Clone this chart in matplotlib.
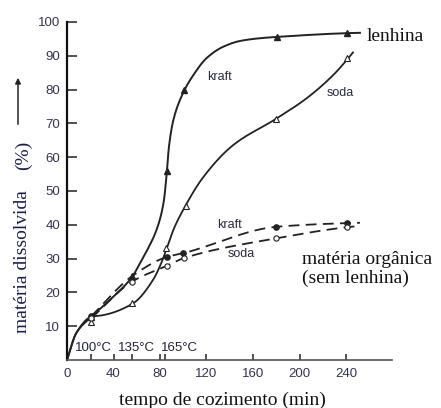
import numpy as np
import matplotlib
matplotlib.use("Agg")
import matplotlib.pyplot as plt

# marker points (min, %)
kl_x = [21, 56, 86, 101, 181, 241]           # kraft, lenhina
kl_y = [12.7, 24.8, 56.0, 79.8, 95.5, 96.7]
sl_x = [21, 56, 85, 102, 180, 241]           # soda, lenhina
sl_y = [11.3, 16.9, 33.2, 45.5, 71.4, 89.4]
ko_x = [21, 86, 100, 180, 241]               # kraft, materia organica
ko_y = [13.0, 30.5, 31.6, 39.4, 40.5]
so_x = [21, 56, 86, 101, 180, 241]           # soda, materia organica
so_y = [12.4, 23.2, 27.9, 30.2, 36.0, 39.3]

# traced curves
kl_cx = [0, 8, 21, 37, 56, 64, 70, 77, 83, 86, 87.5, 91.5, 101, 108.7, 120, 134.5, 149, 166, 181, 241, 252]
kl_cy = [0, 8, 12.8, 17.8, 24.6, 29.4, 33.2, 38.5, 46.4, 56, 62.5, 71, 79.8, 84.3, 89.3, 92.7, 94.4, 95.2, 95.6, 96.7, 96.8]
sl_cx = [0, 8, 21, 30, 57, 74, 81, 86, 91.5, 101.5, 117, 143, 180, 206, 229, 242, 246]
sl_cy = [0, 8, 12.8, 13.2, 16.8, 23.7, 28.6, 33.2, 38.5, 45.4, 54.0, 63.6, 71.4, 77.4, 84.3, 89.3, 91.0]
ko_cx = [21, 56, 86, 100, 180, 241, 252]
ko_cy = [13.0, 24.8, 30.5, 31.6, 39.4, 40.5, 40.6]
so_cx = [21, 56, 86, 101, 180, 241, 250]
so_cy = [12.4, 23.2, 27.9, 30.2, 36.0, 39.3, 39.6]

xticks = [0, 40, 80, 120, 160, 200, 240]
yticks = [10, 20, 30, 40, 50, 60, 70, 80, 90, 100]
temp_x = [21, 56, 84]
temp_labels = ['100°C', '135°C', '165°C']
temp_text_x = [7, 44, 81]


def pchip(x, y, n=400):
    x = np.asarray(x, float)
    y = np.asarray(y, float)
    h = np.diff(x)
    d = np.diff(y) / h
    m = np.zeros_like(y)
    m[0], m[-1] = d[0], d[-1]
    for k in range(1, len(x) - 1):
        if d[k - 1] * d[k] > 0:
            w1 = 2 * h[k] + h[k - 1]
            w2 = h[k] + 2 * h[k - 1]
            m[k] = (w1 + w2) / (w1 / d[k - 1] + w2 / d[k])
    xs = np.linspace(x[0], x[-1], n)
    i = np.clip(np.searchsorted(x, xs) - 1, 0, len(x) - 2)
    t = (xs - x[i]) / h[i]
    h00 = 2 * t**3 - 3 * t**2 + 1
    h10 = t**3 - 2 * t**2 + t
    h01 = -2 * t**3 + 3 * t**2
    h11 = t**3 - t**2
    ys = h00 * y[i] + h10 * h[i] * m[i] + h01 * y[i + 1] + h11 * h[i] * m[i + 1]
    return xs, ys


fig = plt.figure(figsize=(4.41, 4.08), dpi=100)
ax = fig.add_axes([67 / 441, 48 / 408, 325.5 / 441, 338 / 408])

lc = '#222222'
ax.plot(*pchip(kl_cx, kl_cy), color=lc, lw=1.4)
ax.plot(*pchip(sl_cx, sl_cy), color=lc, lw=1.3)
ax.plot(*pchip(ko_cx, ko_cy), color=lc, lw=1.3, dashes=(6, 3.5))
ax.plot(*pchip(so_cx, so_cy), color=lc, lw=1.3, dashes=(6, 3.5))

ax.plot(kl_x, kl_y, '^', color=lc, ms=4.5, ls='none')
ax.plot(sl_x, sl_y, '^', mfc='white', mec=lc, mew=0.8, ms=4.5, ls='none')
ax.plot(ko_x, ko_y, 'o', color=lc, ms=3.8, ls='none')
ax.plot(so_x, so_y, 'o', mfc='white', mec=lc, mew=0.8, ms=3.8, ls='none')

ax.set_xlim(0, 280)
ax.set_ylim(0, 100)
ax.spines['top'].set_visible(False)
ax.spines['right'].set_visible(False)
ax.spines['left'].set_linewidth(1.6)
ax.spines['bottom'].set_linewidth(1.2)
ax.spines['left'].set_color('#111111')
ax.spines['bottom'].set_color('#555555')

tick_col = '#33334d'
ax.set_xticks(xticks)
ax.set_xticks(temp_x, minor=True)
ax.set_yticks(yticks)
ax.tick_params(axis='x', which='both', direction='in', length=4, width=1.2,
               pad=6, labelsize=9.5, labelcolor=tick_col, color='#333333')
ax.tick_params(axis='y', direction='in', length=7, width=1.2, pad=5,
               labelsize=9.5, labelcolor=tick_col, color='#333333')
for lab in ax.get_xticklabels() + ax.get_yticklabels():
    lab.set_family('Liberation Sans')

small = dict(family='Liberation Sans', fontsize=9, color='#2a2a40')
for tx, tl in zip(temp_text_x, temp_labels):
    ax.text(tx, 3.5, tl, ha='left', va='center', fontsize=9.5,
            family='Liberation Sans', color='#22223a')
ax.text(120.5, 83.7, 'kraft', ha='left', va='center', **small)
ax.text(223, 79, 'soda', ha='left', va='center', **small)
ax.text(129, 40, 'kraft', ha='left', va='center', **small)
ax.text(138.5, 31.4, 'soda', ha='left', va='center', **small)

serif = dict(family='Liberation Serif', fontsize=14, color='#111111')
ax.text(258, 95.6, 'lenhina', ha='left', va='center', clip_on=False, **serif)
ax.text(202, 27, 'matéria orgânica\n(sem lenhina)', ha='left', va='center',
        linespacing=1.15, clip_on=False, **serif)

fig.text(222 / 441, 1 - 400 / 408, 'tempo de cozimento (min)', ha='center',
         va='center', **serif)
ylab = dict(family='Liberation Serif', fontsize=14, color='#1c1d48')
fig.text(23 / 441, 1 - 262 / 408, 'matéria dissolvida', rotation=90,
         ha='center', va='center', **ylab)
fig.text(23 / 441, 1 - 155 / 408, '(%)', rotation=90, ha='center',
         va='center', **ylab)
ax.annotate('', xy=(18 / 441, 1 - 75 / 408), xytext=(18 / 441, 1 - 127 / 408),
            xycoords='figure fraction', textcoords='figure fraction',
            arrowprops=dict(arrowstyle='-|>', color='#222222', lw=1.1,
                            mutation_scale=8))

fig.savefig('out.png', dpi=100)
